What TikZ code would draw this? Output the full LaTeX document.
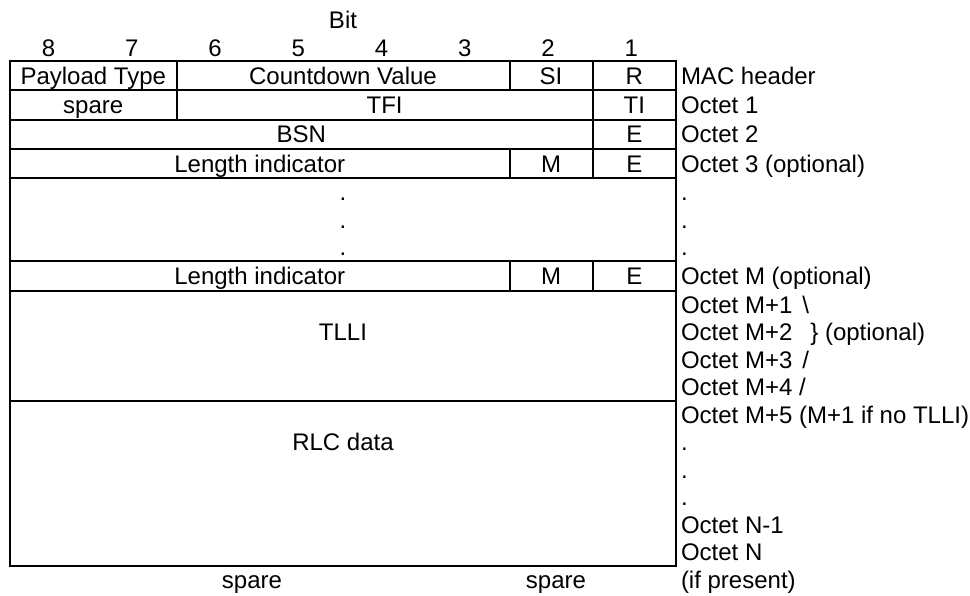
\documentclass[tikz,border=0pt]{standalone}
\usepackage{fontspec}
\setmainfont{Liberation Sans}

\begin{document}
\begin{tikzpicture}[x=1pt,y=-1pt,line width=2pt,
  txt/.style={inner sep=0pt,text height=17pt,text depth=0pt,font=\fontsize{24}{27.5}\selectfont},
  side/.style={txt,anchor=west}]
    \useasboundingbox (0,0) rectangle (970,595);
    \coordinate (tl) at (10,61);
    \coordinate (br) at (676,566);
    % bit numbers
    \node[txt] (bit) at (343,20) {Bit};
    \foreach \b in {1,...,8}
      \node[txt] (b\b) at ({676-83.25*(\b-0.5)-3},48) {\b};
    % frame and row lines
    \draw (tl) rectangle (br);
    \foreach \y in {90,119.5,149,178,261,291,401}
      \draw (10,\y) -- (676,\y);
    % column lines
    \draw (176.5,61) -- (176.5,119.5);
    \draw (509.5,61) -- (509.5,90);
    \draw (592.75,61) -- (592.75,178);
    \draw (509.5,149) -- (509.5,178);
    \draw (509.5,261) -- (509.5,291);
    \draw (592.75,261) -- (592.75,291);
    % fields
    \node[txt] (pt) at (93.25,75.5) {Payload Type};
    \node[txt] (cv) at (343,75.5) {Countdown Value};
    \node[txt] (si) at (551,75.5) {SI};
    \node[txt] (r) at (634.4,75.5) {R};
    \node[txt] (spare) at (93.25,104.75) {spare};
    \node[txt] (tfi) at (384.6,104.75) {TFI};
    \node[txt] (ti) at (634.4,104.75) {TI};
    \node[txt] (bsn) at (301.4,134.25) {BSN};
    \node[txt] (e2) at (634.4,134.25) {E};
    \node[txt] (li3) at (259.75,163.5) {Length indicator};
    \node[txt] (m3) at (551,163.5) {M};
    \node[txt] (e3) at (634.4,163.5) {E};
    \node[txt] (dot1) at (343,192) {.};
    \node[txt] (dot2) at (343,219.5) {.};
    \node[txt] (dot3) at (343,247) {.};
    \node[txt] (liM) at (259.75,276) {Length indicator};
    \node[txt] (mM) at (551,276) {M};
    \node[txt] (eM) at (634.4,276) {E};
    \node[txt] (tlli) at (343,332.25) {TLLI};
    \node[txt] (rlc) at (343,442.25) {RLC data};
    \node[txt] (spareA) at (252,580) {spare};
    \node[txt] (spareB) at (556,580) {spare};
    % octet labels
    \node[side] (mac) at (680,75.5) {MAC header};
    \node[side] (oct1) at (680,104.75) {Octet 1};
    \node[side] (oct2) at (680,134.25) {Octet 2};
    \node[side] (oct3) at (680,163.5) {Octet 3 (optional)};
    \node[side] (sdot1) at (680,192) {.};
    \node[side] (sdot2) at (680,219.5) {.};
    \node[side] (sdot3) at (680,247) {.};
    \node[side] (octM) at (680,276) {Octet M (optional)};
    \node[side] (octMa) at (680,304.75) {Octet M+1\hspace{10pt}\textbackslash};
    \node[side] (octMb) at (680,332.25) {Octet M+2\hspace{18pt}\} (optional)};
    \node[side] (octMc) at (680,359.75) {Octet M+3\hspace{10pt}/};
    \node[side] (octMd) at (680,387.25) {Octet M+4 /};
    \node[side] (octMe) at (680,414.75) {Octet M+5 (M+1 if no TLLI)};
    \node[side] (sdot4) at (680,442.25) {.};
    \node[side] (sdot5) at (680,469.75) {.};
    \node[side] (sdot6) at (680,497.25) {.};
    \node[side] (octNa) at (680,524.75) {Octet N-1};
    \node[side] (octN) at (680,552.25) {Octet N};
    \node[side] (pres) at (680,580) {(if present)};
\end{tikzpicture}
\end{document}
